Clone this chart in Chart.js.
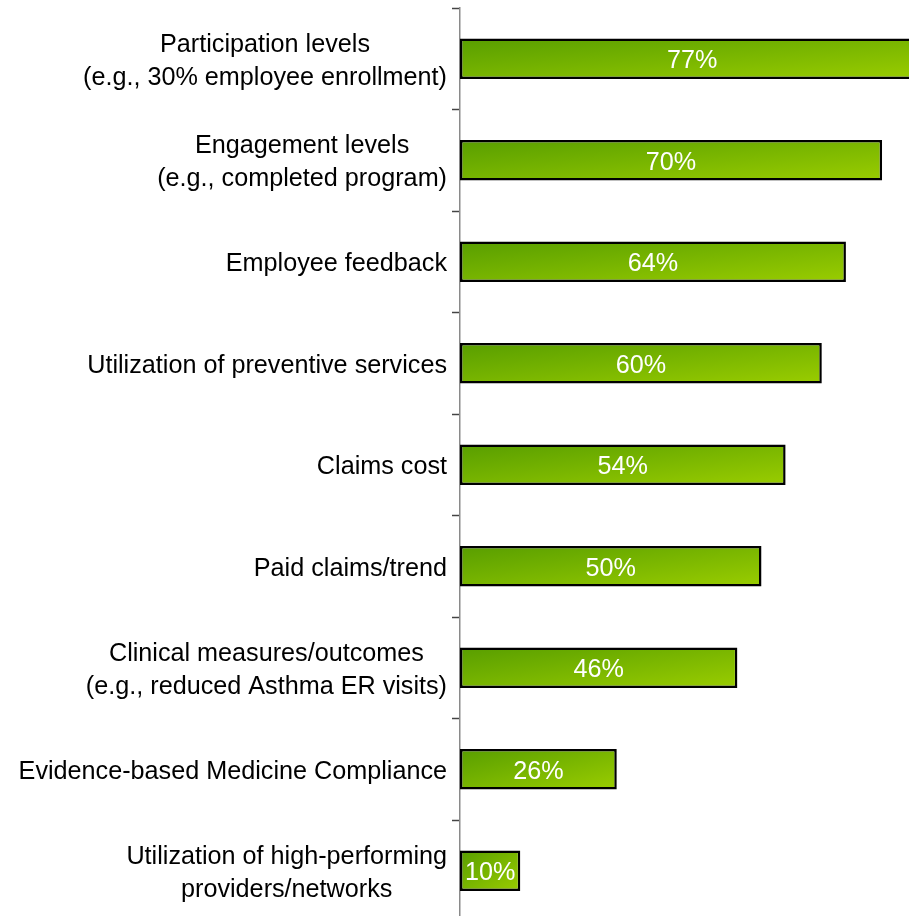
<!DOCTYPE html>
<html lang="en">
<head>
<meta charset="UTF-8">
<title>Program success measures</title>
<script src="https://cdn.jsdelivr.net/npm/chart.js"></script>
<style>
    html, body { margin: 0; padding: 0; background: #fff; overflow: hidden; }
    #wrap { width: 909px; height: 916px; overflow: hidden; position: relative; }
    canvas { position: absolute; left: 0; top: 0; }
</style>
</head>
<body>
<div id="wrap">
    <canvas id="barChart" width="909" height="930"></canvas>
</div>

<script>
    var categories = [
        ['Participation levels', '(e.g., 30% employee enrollment)'],
        ['Engagement levels', '(e.g., completed program)'],
        ['Employee feedback'],
        ['Utilization of preventive services'],
        ['Claims cost'],
        ['Paid claims/trend'],
        ['Clinical measures/outcomes', '(e.g., reduced Asthma ER visits)'],
        ['Evidence-based Medicine Compliance'],
        ['Utilization of high-performing', 'providers/networks']
    ];
    var percentages = [77, 70, 64, 60, 54, 50, 46, 26, 10];

    var FONT = '"Liberation Sans", Arial, sans-serif';
    var BAR_PCT = 0.4;

    // diagonal green fill, scaled to each bar's box
    function barFill(context) {
        var chart = context.chart;
        var xs = chart.scales.x, ys = chart.scales.y;
        if (!chart.chartArea || !xs || !ys) return '#7ab800';
        var i = context.dataIndex;
        var x0 = xs.getPixelForValue(0);
        var w = xs.getPixelForValue(percentages[i]) - x0;
        var h = BAR_PCT * ys.height / categories.length;
        var y0 = ys.getPixelForValue(i) - h / 2;
        var k = 2 * w * h / (w * w + h * h);
        var g = chart.ctx.createLinearGradient(x0, y0, x0 + h * k, y0 + w * k);
        g.addColorStop(0, '#589e00');
        g.addColorStop(1, '#9acd00');
        return g;
    }

    // multi-line category names, each block centred and right-aligned to the axis
    var categoryLabels = {
        id: 'categoryLabels',
        afterDraw: function (chart) {
            var ctx = chart.ctx;
            var yScale = chart.scales.y;
            ctx.save();
            ctx.font = '25.2px ' + FONT;
            ctx.fillStyle = '#000';
            ctx.textAlign = 'center';
            ctx.textBaseline = 'middle';
            categories.forEach(function (lines, i) {
                var widest = 0;
                lines.forEach(function (l) { widest = Math.max(widest, ctx.measureText(l).width); });
                var cx = 447 - widest / 2;
                var cy = yScale.getPixelForValue(i) + 2.5;
                var lh = 33;
                lines.forEach(function (l, j) {
                    ctx.fillText(l, cx, cy + (j - (lines.length - 1) / 2) * lh);
                });
            });
            ctx.restore();
        }
    };

    // percentage text in the middle of each bar
    var valueLabels = {
        id: 'valueLabels',
        afterDatasetsDraw: function (chart) {
            var ctx = chart.ctx;
            var xScale = chart.scales.x, yScale = chart.scales.y;
            ctx.save();
            ctx.font = '25.2px ' + FONT;
            ctx.fillStyle = '#fff';
            ctx.textAlign = 'center';
            ctx.textBaseline = 'middle';
            percentages.forEach(function (v, i) {
                var x = (xScale.getPixelForValue(0) + xScale.getPixelForValue(v)) / 2;
                ctx.fillText(v + '%', x, yScale.getPixelForValue(i) + 2.5);
            });
            ctx.restore();
        }
    };

    new Chart(document.getElementById('barChart'), {
        type: 'bar',
        data: {
            labels: categories.map(function (c) { return c.join(' '); }),
            datasets: [{
                data: percentages,
                backgroundColor: barFill,
                borderColor: '#000',
                borderWidth: 2.5,
                borderSkipped: false,
                categoryPercentage: 1,
                barPercentage: BAR_PCT
            }]
        },
        options: {
            indexAxis: 'y',
            responsive: false,
            animation: false,
            layout: { padding: { top: 8, bottom: 8.5, left: 0, right: 0 } },
            plugins: { legend: { display: false }, tooltip: { enabled: false } },
            scales: {
                x: {
                    display: false,
                    min: 0,
                    max: 74.46
                },
                y: {
                    ticks: { display: false },
                    grid: {
                        drawOnChartArea: false,
                        drawTicks: true,
                        tickLength: 8,
                        tickWidth: 1.5,
                        color: '#444',
                        offset: true
                    },
                    border: { display: true, color: '#8a8a8a', width: 1.5 },
                    afterFit: function (scale) { scale.width = 460; }
                }
            }
        },
        plugins: [categoryLabels, valueLabels]
    });
</script>
</body>
</html>
